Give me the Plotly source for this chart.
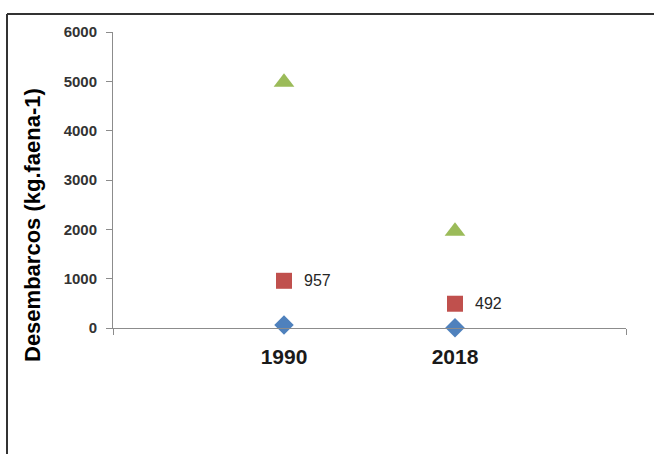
import plotly.graph_objects as go

years = ["1990", "2018"]
x_pos = [1, 2]
serie_verde = [4980, 1960]
serie_roja = [957, 492]
serie_azul = [60, 5]
etiquetas_roja = ["957", "492"]
y_ticks = [0, 1000, 2000, 3000, 4000, 5000, 6000]

W, H = 654, 454
L, R, T, B = 113, 28, 32, 126
pw, ph = W - L - R, H - T - B
FONT = "Liberation Sans, Arial"

def px_x(p):
    return (p - L) / pw

def px_y(p):
    return (H - B - p) / ph

fig = go.Figure()
fig.add_trace(go.Scatter(
    x=x_pos, y=serie_azul, mode="markers",
    marker=dict(symbol="diamond", size=15, color="#4F81BD"),
    showlegend=False, cliponaxis=False))
fig.add_trace(go.Scatter(
    x=x_pos, y=serie_roja, mode="markers",
    marker=dict(symbol="square", size=16, color="#C0504D"),
    showlegend=False, cliponaxis=False))
fig.add_trace(go.Scatter(
    x=x_pos, y=serie_verde, mode="markers",
    marker=dict(symbol="triangle-up", size=18, color="#9BBB59"),
    showlegend=False, cliponaxis=False))

annotations = [dict(
    text="<b>Desembarcos (kg.faena-1)</b>",
    textangle=-90, xref="paper", yref="paper",
    x=px_x(33), y=px_y(225), showarrow=False,
    xanchor="center", yanchor="middle",
    font=dict(size=22, color="#000000", family=FONT),
)]
for xv, yv, t in zip(x_pos, serie_roja, etiquetas_roja):
    annotations.append(dict(
        x=xv, y=yv, text=t, showarrow=False, xref="x", yref="y",
        xanchor="left", yanchor="middle", xshift=18,
        font=dict(size=16, color="#262626", family=FONT)))

fig.update_layout(
    width=W, height=H,
    margin=dict(l=L, r=R, t=T, b=B),
    paper_bgcolor="white", plot_bgcolor="white",
    font=dict(family=FONT, color="#262626"),
    xaxis=dict(
        range=[0, 3], tickvals=x_pos, ticktext=years,
        showgrid=False, zeroline=False,
        showline=True, linecolor="#8C8C8C", linewidth=1,
        ticks="", ticklabelstandoff=10,
        tickfont=dict(size=21, color="#1a1a1a", family=FONT, weight="bold"),
        minor=dict(tick0=0, dtick=3, ticks="outside", ticklen=6, tickcolor="#8C8C8C"),
        fixedrange=True,
    ),
    yaxis=dict(
        range=[0, 6000], tickvals=y_ticks,
        showgrid=False, zeroline=False,
        showline=True, linecolor="#8C8C8C", linewidth=1,
        ticks="outside", ticklen=6, tickcolor="#8C8C8C", ticklabelstandoff=6,
        tickfont=dict(size=15, color="#333333", family=FONT, weight="bold"),
        fixedrange=True,
    ),
    annotations=annotations,
    shapes=[
        dict(type="line", xref="paper", yref="paper",
             x0=px_x(7), x1=px_x(660), y0=px_y(14), y1=px_y(14),
             line=dict(color="#333333", width=2)),
        dict(type="line", xref="paper", yref="paper",
             x0=px_x(7), x1=px_x(7), y0=px_y(14), y1=px_y(460),
             line=dict(color="#333333", width=2)),
    ],
)

fig.write_html("out.html")
